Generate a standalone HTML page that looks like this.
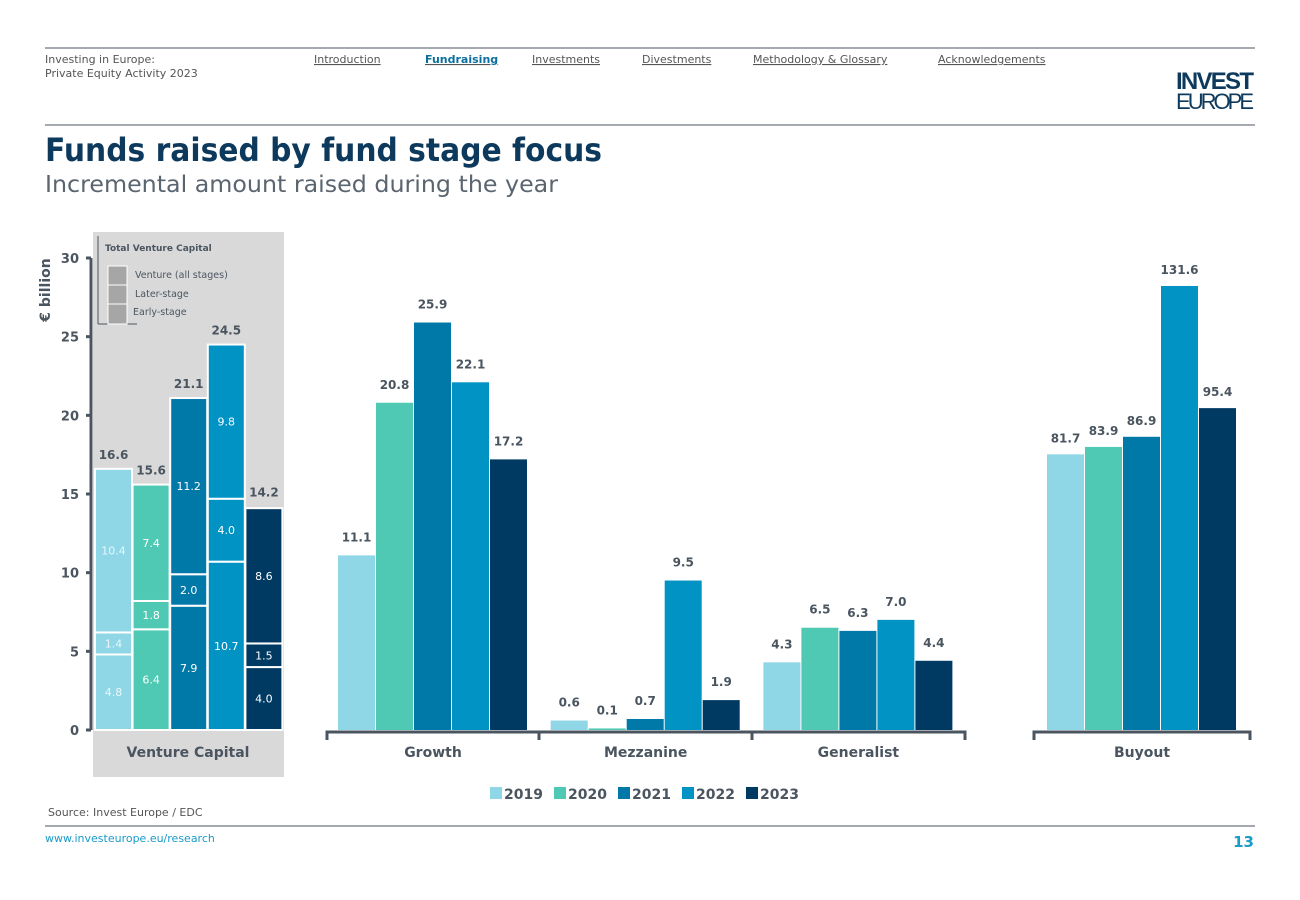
<!DOCTYPE html>
<html><head><meta charset="utf-8"><style>
body{margin:0;width:1300px;height:900px;background:#fff;font-family:"DejaVu Sans","Liberation Sans",sans-serif;overflow:hidden}
svg{position:absolute;left:0;top:0}
</style></head><body>
<svg id="s" width="1300" height="900">
<line x1="45" y1="48" x2="1255" y2="48" stroke="#4a5560" stroke-width="1"/>
<text x="45" y="63" font-size="11" fill="#555">Investing in Europe:</text>
<text x="45" y="77" font-size="11" fill="#555">Private Equity Activity 2023</text>
<g font-size="11" fill="#555" text-decoration="underline">
<text x="314" y="63">Introduction</text>
<text x="425" y="63" fill="#0a6fa0" font-weight="bold">Fundraising</text>
<text x="532" y="63">Investments</text>
<text x="642" y="63">Divestments</text>
<text x="753" y="63">Methodology &amp; Glossary</text>
<text x="938" y="63">Acknowledgements</text>
</g>
<text x="1254" y="89" text-anchor="end" font-size="24" font-weight="bold" fill="#0d3a5c" font-family="Liberation Sans, sans-serif" textLength="78">INVEST</text>
<text x="1254" y="109" text-anchor="end" font-size="22" fill="#0d3a5c" font-family="Liberation Sans, sans-serif" textLength="78">EUROPE</text>
<line x1="45" y1="125" x2="1255" y2="125" stroke="#4a5560"/>
<text x="45" y="161" font-size="32" font-weight="bold" fill="#0d3a5c" textLength="557" lengthAdjust="spacingAndGlyphs">Funds raised by fund stage focus</text>
<text x="45" y="192" font-size="23" fill="#5a6570" textLength="513" lengthAdjust="spacingAndGlyphs">Incremental amount raised during the year</text>
<rect x="93" y="232" width="191" height="545" fill="#d9d9d9"/>
<text x="50" y="290" font-size="14" font-weight="bold" fill="#4a5560" transform="rotate(-90 50 290)" text-anchor="middle">€ billion</text>
<text x="105" y="251" font-size="9" font-weight="bold" fill="#4a5560">Total Venture Capital</text>
<line x1="98" y1="236" x2="98" y2="324" stroke="#4a5560"/>
<line x1="98" y1="324" x2="137" y2="324" stroke="#4a5560"/>
<rect x="108" y="266" width="19" height="19" fill="#a6a6a6" stroke="#fff"/>
<rect x="108" y="285" width="19" height="19" fill="#a6a6a6" stroke="#fff"/>
<rect x="108" y="304" width="19" height="20" fill="#a6a6a6" stroke="#fff"/>
<text x="135" y="278" font-size="9.5" fill="#4a5560">Venture (all stages)</text>
<text x="135" y="297" font-size="9.5" fill="#4a5560">Later-stage</text>
<text x="133" y="315" font-size="9.5" fill="#4a5560">Early-stage</text>
<text x="48" y="816" font-size="11" fill="#555">Source: Invest Europe / EDC</text>
<line x1="45" y1="826" x2="1255" y2="826" stroke="#4a5560"/>
<text x="45" y="842" font-size="11" fill="#1a9bc8">www.investeurope.eu/research</text>
<text x="1254" y="847" text-anchor="end" font-size="15" font-weight="bold" fill="#1a9bc8">13</text>
<g id="g"></g>
</svg>
<script>
const years=['2019','2020','2021','2022','2023'];
const colors=['#8fd6e6','#4fc9b4','#0078a8','#0093c4','#003a63'];
const vcEarly=[4.8,6.4,7.9,10.7,4.0];
const vcLater=[1.4,1.8,2.0,4.0,1.5];
const vcVenture=[10.4,7.4,11.2,9.8,8.6];
const vcTotal=[16.6,15.6,21.1,24.5,14.2];
const categories=['Growth','Mezzanine','Generalist'];
const catValues=[[11.1,20.8,25.9,22.1,17.2],[0.6,0.1,0.7,9.5,1.9],[4.3,6.5,6.3,7.0,4.4]];
const buyoutValues=[81.7,83.9,86.9,131.6,95.4];
const yTicks=[0,5,10,15,20,25,30];
const NS='http://www.w3.org/2000/svg';const g=document.getElementById('g');
function el(t,a,txt){const e=document.createElementNS(NS,t);for(const k in a)e.setAttribute(k,a[k]);if(txt!=null)e.textContent=txt;g.appendChild(e);return e;}
const y0=730,y=v=>y0-v*15.733;
const yb=v=>y0-v*3.374;
let ax=el('line',{x1:91,y1:258,x2:91,y2:y0,stroke:'#4a5560','stroke-width':3});

yTicks.forEach(t=>{const l=el('line',{x1:86,y1:y(t),x2:91,y2:y(t),stroke:'#4a5560','stroke-width':3});

const tx=el('text',{x:79,y:y(t)+5,'text-anchor':'end','font-size':13,'font-weight':'bold',fill:'#4a5560'},String(t));
});
years.forEach((yr,i)=>{const x=95+i*37.6,w=37;let base=0;
[[vcEarly,'early'],[vcLater,'later'],[vcVenture,'venture']].forEach(([arr,nm])=>{const v=arr[i];
const r=el('rect',{x:x,y:y(base+v),width:w,height:v*15.733,fill:colors[i],stroke:'#fff','stroke-width':2});

const t=el('text',{x:x+w/2,y:y(base+v/2)+4,'text-anchor':'middle','font-size':11,fill:i==0?'#e8f7fb':'#fff'},v.toFixed(1));
base+=v;});
const tt=el('text',{x:x+w/2,y:y(vcTotal[i])-10,'text-anchor':'middle','font-size':12,'font-weight':'bold',fill:'#4a5560'},vcTotal[i].toFixed(1));
});
let vl=el('text',{x:188,y:757,'text-anchor':'middle','font-size':14,'font-weight':'bold',fill:'#4a5560'},'Venture Capital');

let ca=el('path',{d:'M327,740 V732 H965 V740 M539,732 V740 M752,732 V740',stroke:'#4a5560','stroke-width':3,fill:'none'});

categories.forEach((c,j)=>{const gx=327+j*212.7;
catValues[j].forEach((v,i)=>{const x=gx+11+i*38;
const r=el('rect',{x:x,y:y(v),width:37,height:v*15.733,fill:colors[i]});

const t=el('text',{x:x+18.5,y:y(v)-14,'text-anchor':'middle','font-size':12,'font-weight':'bold',fill:'#4a5560'},v.toFixed(1));
});
const l=el('text',{x:gx+106,y:757,'text-anchor':'middle','font-size':14,'font-weight':'bold',fill:'#4a5560'},c);
});
let ba=el('path',{d:'M1034,740 V732 H1250 V740',stroke:'#4a5560','stroke-width':3,fill:'none'});

buyoutValues.forEach((v,i)=>{const x=1047+i*38;
const r=el('rect',{x:x,y:yb(v),width:37,height:v*3.374,fill:colors[i]});

const t=el('text',{x:x+18.5,y:yb(v)-12,'text-anchor':'middle','font-size':12,'font-weight':'bold',fill:'#4a5560'},v.toFixed(1));
});
let bl=el('text',{x:1142,y:757,'text-anchor':'middle','font-size':14,'font-weight':'bold',fill:'#4a5560'},'Buyout');

years.forEach((yr,i)=>{const x=490+i*64;
const r=el('rect',{x:x,y:787,width:12,height:12,fill:colors[i]});

const t=el('text',{x:x+14,y:799,'font-size':14,'font-weight':'bold',fill:'#4a5560'},yr);
});
</script>
</body></html>
